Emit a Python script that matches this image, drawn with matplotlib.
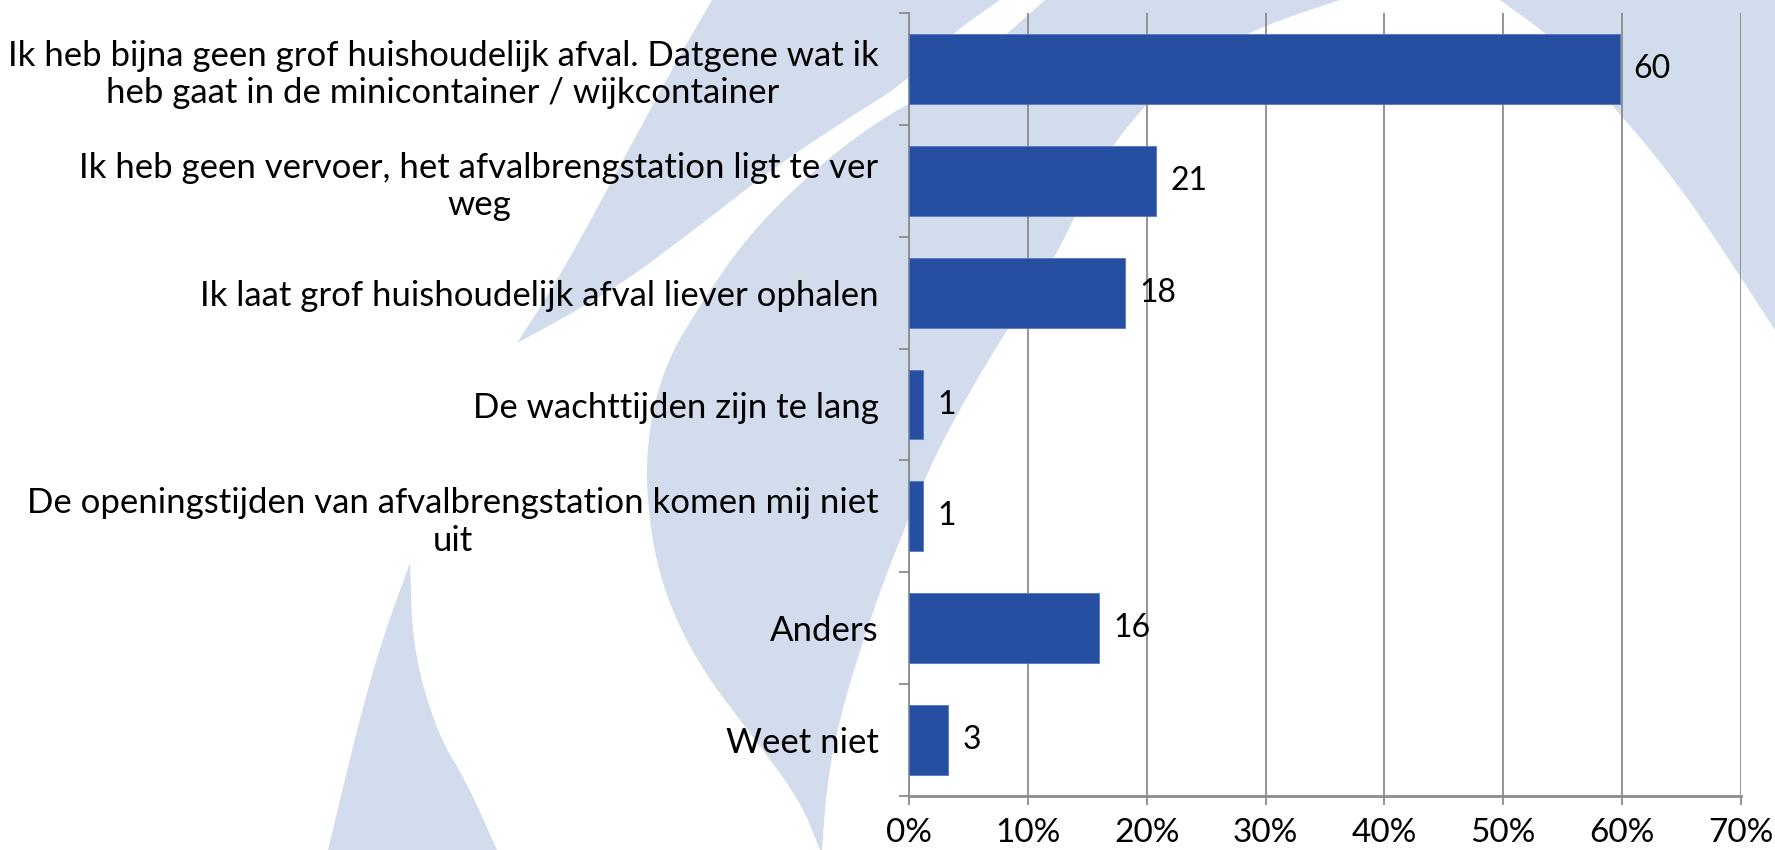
import numpy as np
import matplotlib
matplotlib.use("Agg")
import matplotlib.pyplot as plt
from matplotlib.patches import Polygon

plt.rcParams["font.family"] = ["Lato", "DejaVu Sans"]

# -------- DATA --------
categories = [
    "Ik heb bijna geen grof huishoudelijk afval. Datgene wat ik\nheb gaat in de minicontainer / wijkcontainer",
    "Ik heb geen vervoer, het afvalbrengstation ligt te ver\nweg",
    "Ik laat grof huishoudelijk afval liever ophalen",
    "De wachttijden zijn te lang",
    "De openingstijden van afvalbrengstation komen mij niet\nuit",
    "Anders",
    "Weet niet",
]
percentages = [59.8, 20.8, 18.2, 1.2, 1.2, 16.0, 3.3]
value_labels = ["60", "21", "18", "1", "1", "16", "3"]
x_ticks = [0, 10, 20, 30, 40, 50, 60, 70]

# -------- STYLE --------
BAR = "#264fa2"
SWOOSH = "#d3dcec"
GRID = "#8c8c8c"

# decorative watermark shapes, in figure pixels (x right, y down)
# each shape is a list of outline pieces; every piece gets smoothed on its own
swooshes = [
    # upper-left band
    [[(712, 0), (683, 50), (650, 110), (615, 175), (580, 240), (545, 300), (517, 343)],
     [(517, 343), (560, 320), (620, 285), (690, 233), (775, 167), (850, 117),
      (905, 83), (950, 35), (1000, 0)]],
    # big crescent
    [[(1340, 0), (1265, 25), (1205, 55), (1155, 95), (1120, 135), (1090, 180),
      (1068, 233), (1035, 290), (1000, 340), (948, 430), (923, 483), (903, 533),
      (883, 583), (860, 650), (840, 717), (827, 783), (822, 850)],
     [(820, 850), (800, 800), (750, 733), (700, 667), (667, 600), (650, 533),
      (645, 450), (663, 367), (703, 300), (750, 233), (817, 167), (883, 117),
      (950, 83), (1000, 40), (1045, 0)]],
    # top-right band
    [[(1500, 0), (1562, 45), (1610, 103), (1655, 155), (1700, 215), (1775, 330)],
     [(1775, 0)]],
    # small spike bottom-left
    [[(410, 563), (413, 650), (437, 733), (467, 783), (497, 850)],
     [(328, 850), (360, 717), (383, 637), (410, 563)]],
]


def smooth(pts, n=3):
    # chaikin corner cutting, keeps the end points
    p = np.asarray(pts, dtype=float)
    if len(p) < 3:
        return p
    for _ in range(n):
        a, b = p[:-1], p[1:]
        q = np.empty((2 * len(a), 2))
        q[0::2] = 0.75 * a + 0.25 * b
        q[1::2] = 0.25 * a + 0.75 * b
        p = np.vstack([p[:1], q, p[-1:]])
    return p


def draw_background(fig):
    bg = fig.add_axes([0, 0, 1, 1], zorder=0)
    bg.set_xlim(0, 1775)
    bg.set_ylim(850, 0)
    bg.axis("off")
    for pieces in swooshes:
        outline = np.vstack([smooth(piece) for piece in pieces])
        bg.add_patch(Polygon(outline, closed=True, facecolor=SWOOSH, edgecolor="none"))


def main():
    fig = plt.figure(figsize=(17.75, 8.5), dpi=100)
    fig.patch.set_facecolor("white")
    draw_background(fig)

    ax = fig.add_axes([909 / 1775, 1 - 796 / 850, (1741 - 909) / 1775, (796 - 13) / 850], zorder=1)
    ax.patch.set_alpha(0)

    y = np.arange(len(categories))
    ax.barh(y, percentages, height=0.625, color=BAR, edgecolor="#5577c2",
            linewidth=0.6, zorder=3)

    for yi, v, lbl in zip(y, percentages, value_labels):
        ax.annotate(lbl, (v, yi), xytext=(10, 0), textcoords="offset points",
                    va="center", ha="left", fontsize=23, color="black")

    ax.set_xlim(0, 70)
    ax.set_ylim(len(categories) - 0.5, -0.5)

    ax.set_xticks(x_ticks)
    ax.set_xticklabels([f"{t}%" for t in x_ticks], fontsize=24)
    ax.set_yticks(y)
    ax.set_yticklabels(categories, fontsize=25, multialignment="center", linespacing=1.2)
    ax.set_yticks(np.arange(-0.5, len(categories), 1), minor=True)

    ax.tick_params(axis="y", which="major", length=0, pad=22)
    ax.tick_params(axis="y", which="minor", length=7, width=1.3, color=GRID)
    ax.tick_params(axis="x", which="major", length=6.5, width=1.3, color=GRID, pad=9)

    ax.xaxis.grid(True, color=GRID, linewidth=1.3)
    ax.set_axisbelow(True)

    for s in ["top", "right"]:
        ax.spines[s].set_visible(False)
    ax.spines["left"].set_color(GRID)
    ax.spines["left"].set_linewidth(1.3)
    ax.spines["bottom"].set_color(GRID)
    ax.spines["bottom"].set_linewidth(2)

    fig.savefig("out.png", dpi=100)


if __name__ == "__main__":
    main()
